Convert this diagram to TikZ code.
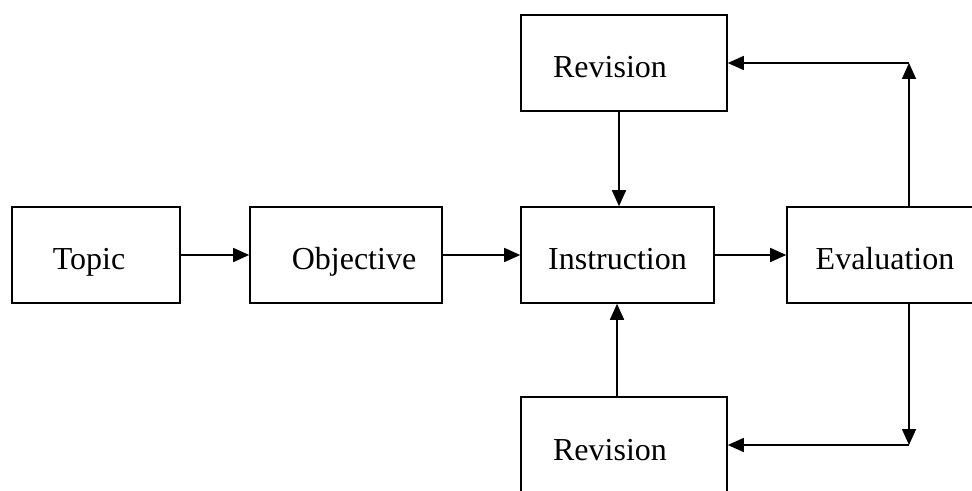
\documentclass[tikz,border=0pt]{standalone}
\usepackage{fontspec}
\setmainfont{Liberation Serif}
\usetikzlibrary{arrows.meta,calc}
\tikzset{
  box/.style={draw, line width=0.8pt, minimum height=48pt, inner sep=0pt},
  lbl/.style={inner sep=0pt, text height=15pt, text depth=0pt, font=\fontsize{16}{19}\selectfont},
  arr/.style={line width=0.8pt, -{Triangle[length=8pt,width=7pt]}}
}
\begin{document}
\begin{tikzpicture}[x=0.5pt,y=-0.5pt]
\clip (0,0) rectangle (972,491);
\fill[white] (0,0) rectangle (972,491);
\node[box, minimum width=84pt] (tp) at (96,255) {};
\node[box, minimum width=96pt] (ob) at (346,255) {};
\node[box, minimum width=96.5pt] (in) at (617.5,255) {};
\node[box, minimum width=98pt] (ev) at (885,255) {};
\node[box, minimum width=103pt] (rt) at (624,63) {};
\node[box, minimum width=103pt] (rb) at (624,445) {};
\node[lbl] (tpt) at ([xshift=-3.5pt]tp.center) {Topic};
\node[lbl] (obt) at ([xshift=4pt]ob.center) {Objective};
\node[lbl] (int) at (in.center) {Instruction};
\node[lbl] (evt) at (ev.center) {Evaluation};
\node[lbl] (rtt) at ([xshift=-7pt]rt.center) {Revision};
\node[lbl] (rbt) at ([xshift=-7pt]rb.center) {Revision};
\coordinate (c1) at (909,63);
\coordinate (c2) at (909,445);
\draw[arr] (tp) -- (ob);
\draw[arr] (ob) -- (in);
\draw[arr] (in) -- (ev);
\draw[arr] ([xshift=-2.5pt]rt.south) -- ([xshift=-2.5pt]rt.south |- in.north);
\draw[arr] ([xshift=-3.5pt]rb.north) -- ([xshift=-3.5pt]rb.north |- in.south);
\draw[arr] (ev.north -| c1) -- (c1);
\draw[arr] (c1) -- (rt);
\draw[arr] (ev.south -| c2) -- (c2);
\draw[arr] (c2) -- (rb);
\end{tikzpicture}
\end{document}
